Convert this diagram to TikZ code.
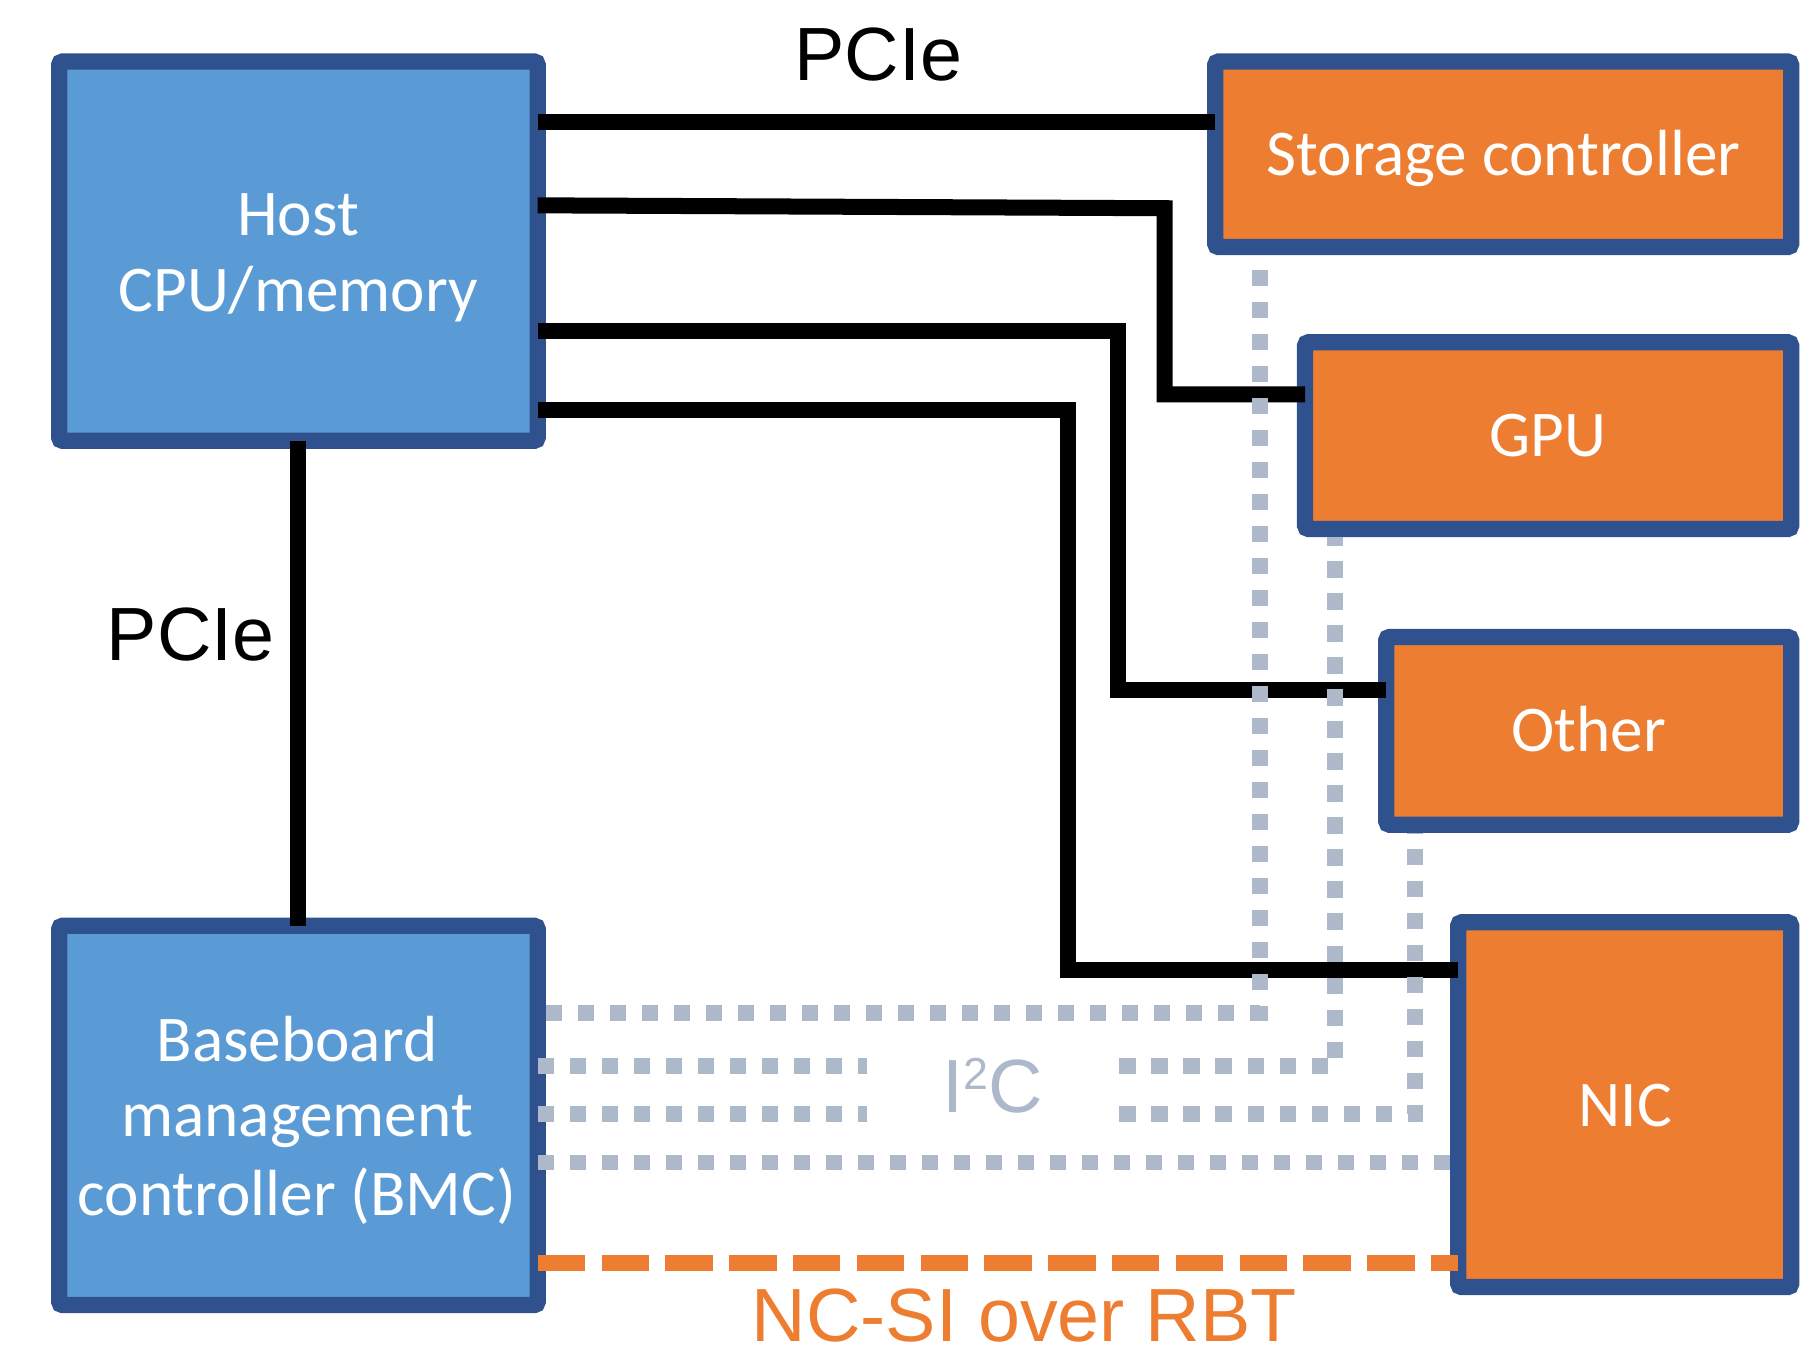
\documentclass[tikz,border=0pt]{standalone}
\usepackage{fontspec}
\setmainfont{Carlito}
\newfontfamily\arialfont{Liberation Sans}
\definecolor{boxblue}{HTML}{5B9BD5}
\definecolor{edgeblue}{HTML}{2F528F}
\definecolor{boxorange}{HTML}{ED7D31}
\definecolor{i2cgray}{HTML}{ADB9CA}

\begin{document}
\begin{tikzpicture}[x=0.1mm, y=-0.1mm,
  box/.style={draw=edgeblue, line width=1.4mm, rounded corners=0.3mm,
              inner sep=0pt, outer sep=0pt, anchor=center},
  hostbox/.style={box, fill=boxblue},
  devbox/.style={box, fill=boxorange},
  lbl/.style={text=white, font=\fontsize{16}{19}\selectfont, inner sep=0pt, anchor=base},
  tag/.style={font=\arialfont\fontsize{18.5}{22}\selectfont, inner sep=0pt, anchor=base},
  pcie/.style={draw=black, line width=1.38mm},
  i2cline/.style={draw=i2cgray, line width=1.35mm, dash pattern=on 1.4mm off 1.36mm},
  ncsiline/.style={draw=boxorange, line width=1.38mm, dash pattern=on 4.1mm off 1.4mm}
]
\useasboundingbox (0,0) rectangle (1568,1168);

% boxes
\node[hostbox, minimum width=41.25mm, minimum height=32.7mm] (host) at (257.25,216.5) {};
\node[hostbox, minimum width=41.25mm, minimum height=32.7mm] (bmc) at (257.25,961.5) {};
\node[devbox, minimum width=49.65mm, minimum height=16mm] (storage) at (1295.75,133) {};
\node[devbox, minimum width=41.9mm, minimum height=16.1mm] (gpu) at (1334.5,375.5) {};
\node[devbox, minimum width=34.9mm, minimum height=16.2mm] (other) at (1369.5,630) {};
\node[devbox, minimum width=28.7mm, minimum height=31.45mm] (nic) at (1400.5,952.25) {};

% box labels
\node[lbl] (hostA) at (257,202.6) {Host};
\node[lbl] (hostB) at (257,268.7) {CPU/memory};
\node[lbl] (bmcA) at (256,915) {Baseboard};
\node[lbl] (bmcB) at (256,980) {management};
\node[lbl] (bmcC) at (256,1047.4) {controller (BMC)};
\node[lbl] (storA) at (1296,151) {Storage controller};
\node[lbl] (gpuA) at (1334.5,393.5) {GPU};
\node[lbl] (othA) at (1369.5,648) {Other};
\node[lbl] (nicA) at (1401,971) {NIC};

% bus labels
\node[tag] (pcieTop) at (757,69) {PCIe};
\node[tag] (pcieLeft) at (164.5,569) {PCIe};
\node[tag, text=i2cgray, inner xsep=6.5mm] (i2c) at (856,958.6)
  {I\raisebox{5.5pt}{\fontsize{11}{11}\selectfont 2}C};
\node[tag, text=boxorange] (ncsi) at (883,1156) {NC-SI over RBT};

% PCIe links
\draw[pcie] (host.east |- 0,105) -- (storage.west |- 0,105);
\draw[pcie] (host.east |- 0,177) -- (1004,179.5) -- (1004,340) -- (gpu.west |- 0,340);
\draw[pcie] (host.east |- 0,285) -- (964,285) -- (964,595) -- (other.west |- 0,595);
\draw[pcie] (host.east |- 0,353) -- (921,353) -- (921,836) -- (nic.west |- 0,836);
\draw[pcie] (host.south) -- (bmc.north);

% I2C sideband links
\draw[i2cline, shorten <=0.7mm, shorten >=0.7mm]
  (bmc.east |- 0,873) -- (1086,873) -- (1086,0 |- storage.south);
\draw[i2cline] (bmc.east |- 0,919) -- (i2c.west |- 0,919);
\draw[i2cline, shorten >=0.7mm] (i2c.east |- 0,919) -- (1151,919) -- (1151,0 |- gpu.south);
\draw[i2cline] (bmc.east |- 0,960) -- (i2c.west |- 0,960);
\draw[i2cline, shorten >=0.7mm] (i2c.east |- 0,960) -- (1220,960) -- (1220,0 |- other.south);
\draw[i2cline, shorten >=0.7mm] (bmc.east |- 0,1002) -- (nic.west |- 0,1002);

% NC-SI link
\draw[ncsiline] (bmc.east |- 0,1088.5) -- (nic.west |- 0,1088.5);
\end{tikzpicture}
\end{document}
